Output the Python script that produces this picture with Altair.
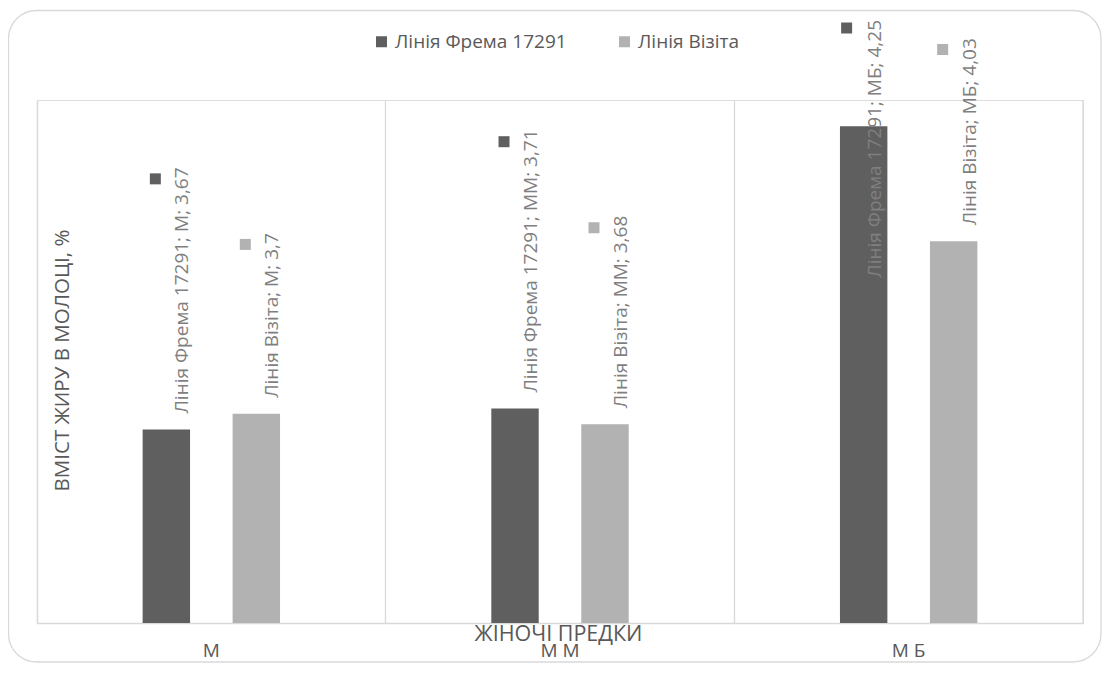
import altair as alt
import pandas as pd

# ---------------- data ----------------
categories = ["М", "ММ", "МБ"]
category_labels = ["М", "М М", "М Б"]
series = ["Лінія Фрема 17291", "Лінія Візіта"]
frema_values = [3.67, 3.71, 4.25]
vizita_values = [3.70, 3.68, 4.03]
series_colors = ["#5f5f5f", "#b2b2b2"]

# ---------------- layout constants ----------------
W, H = 1046, 523
Y_MIN, Y_MAX = 3.3, 4.3
FONT = "Open Sans"
FS = 19
TEXT_GREY = "#595959"
LABEL_GREY = "#7f7f7f"
LINE_GREY = "#d9d9d9"
LABEL_GAP = 16          # px between bar top and start of data label
CLAMP_TOP = -80         # highest position of a data label's end (plot coords)

# approximate advance widths (em) used to place the label keys
CHAR_EM = {
    " ": 0.26, ",": 0.245, ";": 0.266, ".": 0.27,
    "0": 0.572, "1": 0.572, "2": 0.572, "3": 0.572, "4": 0.572,
    "5": 0.572, "6": 0.572, "7": 0.572, "8": 0.572, "9": 0.572,
    "Л": 0.635, "і": 0.253, "н": 0.609, "я": 0.545, "Ф": 0.793,
    "р": 0.613, "е": 0.561, "м": 0.704, "а": 0.556, "М": 0.855,
    "В": 0.634, "з": 0.49, "т": 0.457, "Б": 0.603,
}


def text_px(s, fs=FS):
    return sum(CHAR_EM.get(ch, 0.56) for ch in s) * fs


def fmt(v):
    return ("%g" % v).replace(".", ",")


rows = []
for s, vals in zip(series, [frema_values, vizita_values]):
    for c, v in zip(categories, vals):
        label = f"{s}; {c}; {fmt(v)}"
        tw = text_px(label)
        bar_top = H - (v - Y_MIN) / (Y_MAX - Y_MIN) * H
        text_end = bar_top - LABEL_GAP - tw
        clamped = bool(text_end < CLAMP_TOP)
        keyv = v + (tw + 8) / H * (Y_MAX - Y_MIN)
        rows.append(dict(series=s, category=c, value=v, label=label,
                         clamped=clamped, keyv=keyv))
df = pd.DataFrame(rows)

label_map = "{" + ",".join(f"'{c}':'{l}'" for c, l in zip(categories, category_labels)) + "}"

x_enc = alt.X(
    "category:N",
    sort=categories,
    scale=alt.Scale(paddingInner=0, paddingOuter=0),
    axis=alt.Axis(
        title="ЖІНОЧІ ПРЕДКИ",
        labelExpr=f"{label_map}[datum.value]",
        labelAngle=0,
        labelFont=FONT, labelFontSize=FS, labelColor=TEXT_GREY,
        labelBaseline="alphabetic", labelPadding=33,
        ticks=False, tickSize=0,
        domainColor=LINE_GREY, domainWidth=1.3,
        grid=True, gridColor=LINE_GREY, gridWidth=1.3, bandPosition=0,
        titleFont=FONT, titleFontSize=21.5, titleFontWeight="normal",
        titleColor=TEXT_GREY, titleBaseline="alphabetic", titleY=17,
        titleX=521,
    ),
)
# two invisible slots at the ends keep the pair of bars narrow and centred
offset_domain = ["_l"] + series + ["_r"]
xoff_enc = alt.XOffset(
    "series:N",
    scale=alt.Scale(domain=offset_domain, paddingInner=0.473, paddingOuter=0.174),
)
y_axis = alt.Axis(
    title="ВМІСТ ЖИРУ В МОЛОЦІ, %",
    labels=False, ticks=False, grid=False,
    domainColor=LINE_GREY, domainWidth=1.3,
    titleFont=FONT, titleFontSize=20.5, titleFontWeight="normal",
    titleColor=TEXT_GREY, titleAngle=270, titleAlign="center",
    titleBaseline="middle", titleX=25, titleY=260,
)
y_scale = alt.Scale(domain=[Y_MIN, Y_MAX], zero=False, nice=False)
color_scale = alt.Scale(domain=series, range=series_colors)

base = alt.Chart(df)

bars = base.mark_bar().encode(
    x=x_enc,
    xOffset=xoff_enc,
    y=alt.Y("value:Q", scale=y_scale, axis=y_axis),
    y2=alt.datum(Y_MIN),
    color=alt.Color(
        "series:N", scale=color_scale, sort=series,
        legend=alt.Legend(
            title=None, orient="none", direction="horizontal",
            legendX=335, legendY=-68,
            symbolType="square", symbolSize=121, symbolStrokeWidth=0,
            symbolOpacity=1, labelLimit=0,
            labelFont=FONT, labelFontSize=FS, labelColor=TEXT_GREY,
            labelOffset=4, columnPadding=48, padding=0,
        ),
    ),
)

right_line = alt.Chart(pd.DataFrame({"k": [0]})).mark_rule(
    color=LINE_GREY, strokeWidth=1.3
).encode(x=alt.value(W), y=alt.value(0), y2=alt.value(H))

border = alt.Chart(pd.DataFrame({"k": [0]})).mark_rect(
    cornerRadius=28, fillOpacity=0, stroke=LINE_GREY, strokeWidth=1.3
).encode(x=alt.value(-28.5), x2=alt.value(1064),
         y=alt.value(-89.5), y2=alt.value(562))

labels = base.transform_filter("!datum.clamped").mark_text(
    angle=270, align="left", baseline="middle", dx=LABEL_GAP, dy=16,
    font=FONT, fontSize=FS, color=LABEL_GREY,
).encode(
    x=x_enc, xOffset=xoff_enc,
    y=alt.Y("value:Q", scale=y_scale, axis=y_axis),
    text="label:N",
)

labels_clamped = base.transform_filter("datum.clamped").mark_text(
    angle=270, align="right", baseline="middle", dy=11,
    font=FONT, fontSize=FS, color=LABEL_GREY,
).encode(
    x=x_enc, xOffset=xoff_enc,
    y=alt.value(CLAMP_TOP),
    text="label:N",
)

keys = base.transform_filter("!datum.clamped").mark_point(
    shape="M-3,-1H-1V1H-3Z", size=121, filled=True, opacity=1, strokeWidth=0,
).encode(
    x=x_enc, xOffset=xoff_enc,
    y=alt.Y("keyv:Q", scale=y_scale, axis=y_axis),
    color=alt.Color("series:N", scale=color_scale, sort=series, legend=None),
)

keys_clamped = base.transform_filter("datum.clamped").mark_point(
    shape="M-4.1,-1H-2.1V1H-4.1Z", size=121, filled=True, opacity=1,
    strokeWidth=0,
).encode(
    x=x_enc, xOffset=xoff_enc,
    y=alt.value(CLAMP_TOP + 8),
    color=alt.Color("series:N", scale=color_scale, sort=series, legend=None),
)

chart = alt.layer(
    border, bars, right_line, labels, labels_clamped, keys, keys_clamped
).properties(
    width=W, height=H,
    autosize=alt.AutoSizeParams(type="none"),
    padding={"left": 29, "top": 92, "right": 20, "bottom": 44},
).configure_view(stroke=None).configure(font=FONT)

chart.save("out.html", embed_options={"renderer": "svg", "actions": False})
